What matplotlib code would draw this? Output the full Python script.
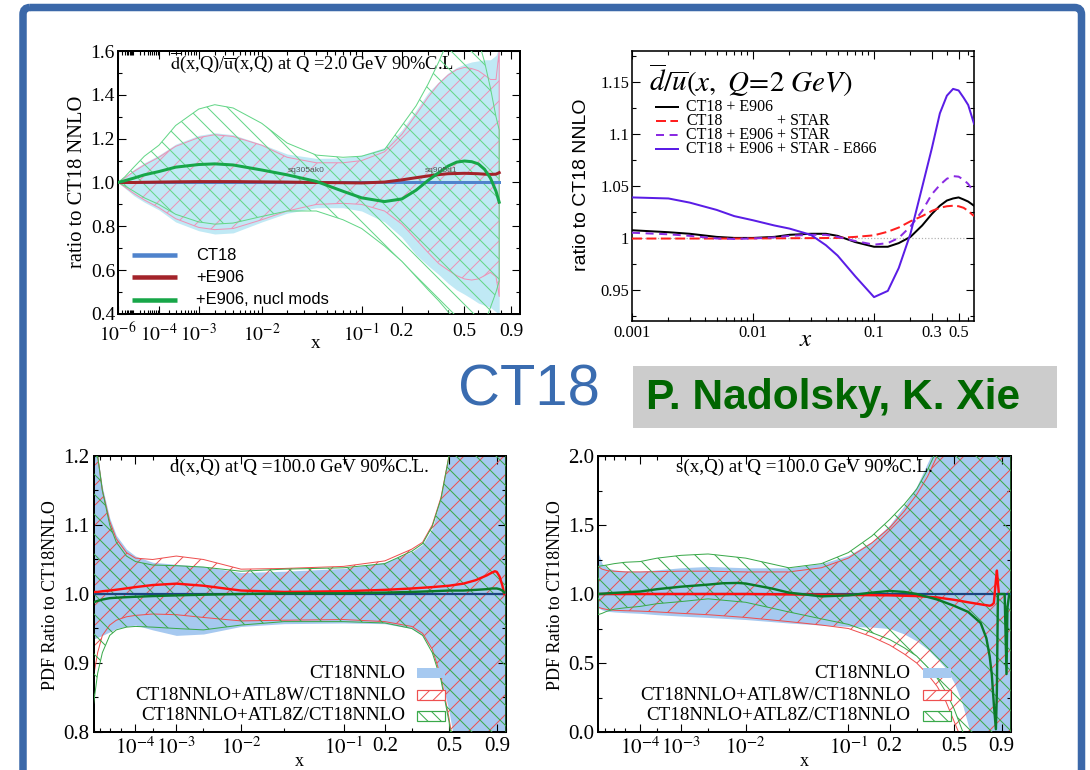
import numpy as np
import matplotlib
matplotlib.use('Agg')
import matplotlib.pyplot as plt
from matplotlib.patches import Rectangle, FancyBboxPatch
from matplotlib.ticker import (FixedLocator, FixedFormatter, LogLocator,
                               MultipleLocator, NullFormatter)

DPI = 120
W, H = 1090, 770

# ---------------- top left: dbar/ubar at Q = 2 GeV ----------------
xa = [1e-6, 3e-6, 1e-5, 3e-5, 1e-4, 3e-4, 1e-3, 2e-3, 4e-3, 1e-2, 2e-2, 4e-2,
      7e-2, 0.1, 0.15, 0.2, 0.25, 0.3, 0.35, 0.4, 0.45, 0.5, 0.55, 0.6, 0.65,
      0.7, 0.75, 0.78]
ct18_hi_a = [1.0, 1.025, 1.06, 1.09, 1.125, 1.175, 1.215, 1.227, 1.218, 1.175,
             1.13, 1.11, 1.112, 1.125, 1.16, 1.24, 1.33, 1.41, 1.46, 1.5, 1.525,
             1.54, 1.55, 1.555, 1.56, 1.56, 1.58, 1.62]
ct18_lo_a = [1.0, 0.975, 0.94, 0.91, 0.875, 0.82, 0.78, 0.765, 0.77, 0.82, 0.86,
             0.885, 0.885, 0.87, 0.82, 0.75, 0.67, 0.62, 0.58, 0.54, 0.51, 0.49,
             0.47, 0.45, 0.44, 0.43, 0.41, 0.38]
e906_hi_a = [1.0, 1.02, 1.05, 1.08, 1.115, 1.165, 1.205, 1.218, 1.21, 1.17, 1.115,
             1.09, 1.09, 1.1, 1.14, 1.22, 1.31, 1.39, 1.45, 1.49, 1.515, 1.525,
             1.52, 1.51, 1.49, 1.47, 1.47, 1.6]
e906_lo_a = [1.0, 0.98, 0.95, 0.92, 0.885, 0.835, 0.795, 0.785, 0.79, 0.83, 0.87,
             0.9, 0.905, 0.9, 0.87, 0.81, 0.74, 0.68, 0.63, 0.6, 0.575, 0.56,
             0.555, 0.56, 0.575, 0.59, 0.57, 0.48]
nucl_hi_a = [1.0, 1.025, 1.07, 1.12, 1.17, 1.26, 1.335, 1.355, 1.34, 1.27, 1.18,
             1.125, 1.115, 1.12, 1.15, 1.26, 1.35, 1.45, 1.55, 1.65, 1.72, 1.76,
             1.74, 1.65, 1.55, 1.43, 1.3, 1.24]
nucl_lo_a = [1.0, 0.985, 0.96, 0.93, 0.9, 0.855, 0.82, 0.81, 0.815, 0.845, 0.87,
             0.87, 0.83, 0.79, 0.71, 0.64, 0.57, 0.51, 0.46, 0.41, 0.37, 0.34,
             0.31, 0.3, 0.36, 0.43, 0.5, 0.55]
ct18_ends_a = [1e-6, 0.78]
ct18_line_a = [1.0, 1.0]
e906_line_a = [1.0, 1.0, 1.0, 1.001, 1.002, 1.003, 1.004, 1.004, 1.004, 1.003,
               1.002, 1.0, 0.999, 0.998, 1.002, 1.012, 1.022, 1.03, 1.036, 1.04,
               1.041, 1.042, 1.041, 1.04, 1.038, 1.037, 1.038, 1.045]
nucl_line_a = [1.0, 1.008, 1.02, 1.035, 1.05, 1.07, 1.082, 1.085, 1.08, 1.057,
               1.035, 1.005, 0.96, 0.93, 0.913, 0.925, 0.965, 1.01, 1.045, 1.075,
               1.093, 1.098, 1.095, 1.085, 1.06, 1.02, 0.96, 0.91]
legend_a = ['CT18', '+E906', '+E906, nucl mods']

# ---------------- top right: dbar/ubar fits with STAR ----------------
xb = [0.001, 0.002, 0.003, 0.005, 0.007, 0.01, 0.015, 0.02, 0.03, 0.04, 0.05,
      0.07, 0.1, 0.13, 0.16, 0.2, 0.25, 0.3, 0.35, 0.4, 0.45, 0.5, 0.55, 0.6,
      0.67]
e906_b = [1.0074, 1.0055, 1.004, 1.001, 1.0, 1.0, 1.001, 1.003, 1.004, 1.004,
          1.002, 0.996, 0.9915, 0.9915, 0.995, 1.001, 1.012, 1.023, 1.031, 1.036,
          1.038, 1.039, 1.037, 1.035, 1.031]
star_b = [0.9994, 0.9994, 0.9994, 0.9994, 0.9994, 0.9995, 0.9996, 0.9997,
          0.9998, 0.9999, 1.0, 1.001, 1.0025, 1.006, 1.01, 1.016, 1.021, 1.026,
          1.029, 1.0305, 1.031, 1.0305, 1.029, 1.026, 1.021]
e906star_b = [1.005, 1.0035, 1.002, 0.9995, 0.999, 0.9995, 1.0005, 1.002, 1.003,
              1.003, 1.001, 0.997, 0.9935, 0.995, 1.0, 1.011, 1.026, 1.042,
              1.051, 1.057, 1.0595, 1.059, 1.056, 1.052, 1.044]
noe866_b = [1.039, 1.038, 1.034, 1.027, 1.021, 1.017, 1.012, 1.009, 1.003, 0.993,
            0.983, 0.963, 0.943, 0.949, 0.971, 1.004, 1.049, 1.086, 1.12, 1.137,
            1.1435, 1.142, 1.135, 1.128, 1.11]

# ---------------- bottom left: d(x,Q) at Q = 100 GeV ----------------
xc_band = [1e-6, 2e-6, 4e-6, 1e-5, 2e-5, 5e-5, 1e-4, 3e-4, 1e-3, 3e-3, 1e-2,
           3e-2, 0.1, 0.2, 0.3, 0.35, 0.4, 0.45, 0.5, 0.55, 0.6, 0.7, 0.8, 0.9,
           1.0]
nnlo_hi_c = [1.40, 1.20, 1.155, 1.11, 1.085, 1.065, 1.055, 1.046, 1.043, 1.04,
             1.031, 1.033, 1.037, 1.046, 1.061, 1.072, 1.095, 1.14, 1.2, 1.3,
             1.5, 1.6, 1.6, 1.6, 1.6]
nnlo_lo_c = [0.935, 0.937, 0.94, 0.945, 0.95, 0.953, 0.955, 0.948, 0.94, 0.942,
             0.953, 0.957, 0.958, 0.957, 0.95, 0.94, 0.918, 0.88, 0.83, 0.77,
             0.7, 0.6, 0.6, 0.6, 0.6]
w_hi_c = [1.40, 1.20, 1.15, 1.105, 1.08, 1.06, 1.052, 1.05, 1.055, 1.05, 1.036,
          1.037, 1.04, 1.048, 1.065, 1.075, 1.1, 1.14, 1.2, 1.3, 1.5, 1.6, 1.6,
          1.6, 1.6]
w_lo_c = [0.88, 0.915, 0.94, 0.955, 0.962, 0.967, 0.969, 0.971, 0.97, 0.966,
          0.961, 0.962, 0.963, 0.96, 0.953, 0.943, 0.92, 0.88, 0.82, 0.75, 0.7,
          0.6, 0.6, 0.6, 0.6]
z_hi_c = [1.40, 1.20, 1.15, 1.1, 1.075, 1.055, 1.047, 1.042, 1.041, 1.039, 1.033,
          1.036, 1.038, 1.044, 1.062, 1.073, 1.098, 1.138, 1.2, 1.3, 1.5, 1.6,
          1.6, 1.6, 1.6]
z_lo_c = [0.84, 0.885, 0.915, 0.94, 0.948, 0.952, 0.953, 0.952, 0.95, 0.948,
          0.955, 0.96, 0.96, 0.958, 0.95, 0.94, 0.915, 0.875, 0.815, 0.74, 0.7,
          0.6, 0.6, 0.6, 0.6]
xc_line = [1e-6, 2e-6, 4e-6, 1e-5, 3e-5, 1e-4, 3e-4, 1e-3, 3e-3, 1e-2, 3e-2, 0.1,
           0.2, 0.3, 0.4, 0.5, 0.6, 0.7, 0.8, 0.85, 0.88, 0.9, 0.93, 0.96, 0.98]
w_line_c = [1.003, 1.003, 1.004, 1.005, 1.007, 1.01, 1.013, 1.015, 1.012, 1.005,
            1.003, 1.004, 1.006, 1.008, 1.01, 1.012, 1.015, 1.02, 1.027, 1.031,
            1.033, 1.032, 1.025, 1.012, 1.0]
z_line_c = [0.988, 0.99, 0.992, 0.994, 0.995, 0.996, 0.997, 0.998, 0.999, 1.0,
            1.001, 1.001, 1.002, 1.003, 1.004, 1.005, 1.005, 1.006, 1.007, 1.008,
            1.008, 1.008, 1.007, 1.005, 1.002]

# ---------------- bottom right: s(x,Q) at Q = 100 GeV ----------------
xd_band = [1e-6, 2e-6, 4e-6, 1e-5, 3e-5, 1e-4, 3e-4, 1e-3, 3e-3, 1e-2, 3e-2,
           6e-2, 0.1, 0.15, 0.2, 0.25, 0.3, 0.35, 0.4, 0.45, 0.5, 0.55, 0.6,
           0.65, 0.7, 0.8, 0.9, 1.0]
nnlo_hi_d = [1.30, 1.22, 1.19, 1.175, 1.168, 1.165, 1.175, 1.19, 1.2, 1.19, 1.19,
             1.22, 1.28, 1.38, 1.5, 1.64, 1.78, 1.95, 2.1, 2.2, 2.3, 2.4, 2.5,
             2.5, 2.5, 2.5, 2.5, 2.5]
nnlo_lo_d = [0.90, 0.885, 0.875, 0.87, 0.865, 0.86, 0.85, 0.84, 0.83, 0.815,
             0.79, 0.775, 0.765, 0.76, 0.75, 0.71, 0.66, 0.6, 0.53, 0.46, 0.36,
             0.23, 0.05, -0.1, -0.3, -0.5, -0.5, -0.5]
w_hi_d = [1.20, 1.18, 1.17, 1.165, 1.16, 1.16, 1.162, 1.165, 1.165, 1.16, 1.16,
          1.19, 1.26, 1.37, 1.48, 1.6, 1.72, 1.85, 2.0, 2.1, 2.2, 2.3, 2.4, 2.5,
          2.5, 2.5, 2.5, 2.5]
w_lo_d = [0.905, 0.895, 0.888, 0.882, 0.879, 0.876, 0.87, 0.86, 0.85, 0.83, 0.8,
          0.775, 0.75, 0.69, 0.63, 0.565, 0.5, 0.42, 0.33, 0.22, 0.08, -0.05,
          -0.2, -0.4, -0.5, -0.5, -0.5, -0.5]
z_hi_d = [1.20, 1.205, 1.21, 1.22, 1.23, 1.235, 1.26, 1.28, 1.29, 1.26, 1.19,
          1.22, 1.30, 1.42, 1.54, 1.65, 1.76, 1.9, 2.05, 2.2, 2.3, 2.4, 2.5, 2.5,
          2.5, 2.5, 2.5, 2.5]
z_lo_d = [0.85, 0.86, 0.875, 0.89, 0.9, 0.91, 0.93, 0.945, 0.965, 0.94, 0.87,
          0.82, 0.78, 0.72, 0.67, 0.61, 0.55, 0.47, 0.39, 0.29, 0.17, 0.03, -0.1,
          -0.3, -0.5, -0.5, -0.5, -0.5]
xd_wline = [1e-6, 1e-4, 1e-3, 1e-2, 2e-2, 6e-2, 0.1, 0.2, 0.3, 0.4, 0.5, 0.6,
            0.7, 0.78, 0.8, 0.82, 0.84, 0.85, 0.86, 0.87]
w_line_d = [1.0, 1.0, 1.0, 1.0, 0.998, 0.995, 0.993, 0.99, 0.985, 0.975, 0.958,
            0.94, 0.925, 0.915, 0.92, 0.935, 1.1, 1.17, 1.08, 1.0]
xd_zline = [1e-6, 1e-5, 1e-4, 3e-4, 1e-3, 3e-3, 5e-3, 8e-3, 1e-2, 2e-2, 3e-2,
            6e-2, 0.1, 0.15, 0.2, 0.25, 0.3, 0.4, 0.5, 0.6, 0.7, 0.75, 0.78, 0.8,
            0.82, 0.84, 0.85, 0.86, 0.9, 0.93, 0.95, 0.96, 0.98]
z_line_d = [1.0, 1.008, 1.018, 1.035, 1.053, 1.068, 1.078, 1.08, 1.076, 1.04,
            1.01, 0.983, 0.99, 1.01, 1.022, 1.015, 1.0, 0.96, 0.915, 0.87, 0.79,
            0.68, 0.55, 0.42, 0.2, 0.02, 0.3, 1.0, 1.0, 1.0, 0.42, 0.9, 1.0]
legend_cd = ['CT18NNLO', 'CT18NNLO+ATL8W/CT18NNLO', 'CT18NNLO+ATL8Z/CT18NNLO']

# ---------------- styling ----------------
plt.rcParams['font.family'] = ['Liberation Serif', 'DejaVu Serif']
plt.rcParams['mathtext.fontset'] = 'stix'
plt.rcParams['hatch.linewidth'] = 0.6
SANS = ['Liberation Sans', 'DejaVu Sans']

FRAME_BLUE = '#3b68a9'
CYAN = '#c0e9f5'
PINK = '#ee92b6'
LGREEN = '#63d687'
BAND_BLUE = '#a6c9f0'
HATCH_RED = '#ee5050'
HATCH_GREEN = '#3aa94a'


def pt(px):
    """pixel size -> points at the figure dpi"""
    return px * 72.0 / DPI


def x02(x):
    return np.power(np.abs(x), 0.2)


def x02_inv(y):
    return np.power(np.abs(y), 5.0)


fig = plt.figure(figsize=(W / DPI, H / DPI), dpi=DPI)
fig.patch.set_facecolor('white')


def panel(L, R, T, B):
    return fig.add_axes([L / W, 1 - B / H, (R - L) / W, (B - T) / H])


def style(ax, spine_px, label_px, xpad_px, ypad_px):
    for s in ax.spines.values():
        s.set_linewidth(pt(spine_px))
    ax.tick_params(which='both', direction='in', top=True, right=True,
                   width=pt(1.1), labelsize=pt(label_px))
    ax.tick_params(axis='x', which='both', pad=pt(xpad_px))
    ax.tick_params(axis='y', which='both', pad=pt(ypad_px))
    ax.tick_params(which='major', length=pt(8))
    ax.tick_params(which='minor', length=pt(4))


def power_axis(ax, ticks, labels, subs):
    ax.set_xscale('function', functions=(x02, x02_inv))
    ax.set_xlim(1e-6, 1.0)
    ax.xaxis.set_major_locator(FixedLocator(ticks))
    ax.xaxis.set_major_formatter(FixedFormatter(labels))
    ax.xaxis.set_minor_locator(LogLocator(base=10, subs=subs, numticks=60))
    ax.xaxis.set_minor_formatter(NullFormatter())


def hatched(ax, x, lo, hi, color, hatch, z):
    ax.fill_between(x, lo, hi, facecolor='none', edgecolor=color, hatch=hatch,
                    linewidth=pt(1.0), zorder=z)


# ---------- top-left panel ----------
axA = panel(118, 520, 51, 314)
power_axis(axA, [1e-6, 1e-4, 1e-3, 1e-2, 0.1, 0.2, 0.5, 0.9],
           [r'$10^{-6}$', r'$10^{-4}$', r'$10^{-3}$', r'$10^{-2}$',
            r'$10^{-1}$', '0.2', '0.5', '0.9'], np.arange(2, 10))
axA.set_ylim(0.4, 1.6)
axA.yaxis.set_major_locator(FixedLocator([0.4, 0.6, 0.8, 1.0, 1.2, 1.4, 1.6]))
axA.yaxis.set_major_formatter(FixedFormatter(['0.4', '0.6', '0.8', '1.0',
                                              '1.2', '1.4', '1.6']))
axA.yaxis.set_minor_locator(MultipleLocator(0.1))
style(axA, 2.0, 19.5, 8.5, 3)
axA.fill_between(xa, ct18_lo_a, ct18_hi_a, color=CYAN, lw=0, zorder=1)
axA.text(0.4826, 0.954,
         r'$\overline{\rm d}$(x,Q)/$\overline{\rm u}$(x,Q) at Q =2.0 GeV 90%C.L',
         transform=axA.transAxes, ha='center', va='center',
         fontsize=pt(18.5), zorder=1.5)
hatched(axA, xa, e906_lo_a, e906_hi_a, PINK, '//', 2)
hatched(axA, xa, nucl_lo_a, nucl_hi_a, LGREEN, '\\\\', 3)
axA.plot(ct18_ends_a, ct18_line_a, color='#4f83cc', lw=pt(3), zorder=4)
axA.plot(xa, e906_line_a, color='#a3232a', lw=pt(3), zorder=5)
axA.plot(xa, nucl_line_a, color='#17a648', lw=pt(3), zorder=6)

# ---------- top-right panel ----------
axB = panel(632, 974, 51, 321)
axB.set_xscale('log')
axB.set_xlim(0.001, 0.67)
axB.set_ylim(0.92, 1.18)
axB.xaxis.set_major_locator(FixedLocator([0.001, 0.01, 0.1, 0.3, 0.5]))
axB.xaxis.set_major_formatter(FixedFormatter(['0.001', '0.01', '0.1', '0.3', '0.5']))
axB.xaxis.set_minor_locator(LogLocator(base=10, subs=np.arange(2, 10), numticks=30))
axB.xaxis.set_minor_formatter(NullFormatter())
axB.yaxis.set_major_locator(FixedLocator([0.95, 1.0, 1.05, 1.1, 1.15]))
axB.yaxis.set_major_formatter(FixedFormatter(['0.95', '1', '1.05', '1.1', '1.15']))
axB.yaxis.set_minor_locator(MultipleLocator(0.025))
style(axB, 1.6, 16.5, 4, 3)
axB.axhline(1.0, color='#b0b0b0', ls=':', lw=pt(1.2), zorder=1)
STYLE_B = [
    dict(color='black', ls='-'),
    dict(color='#ff1f1f', dashes=(5.0, 2.2)),
    dict(color='#8a2be2', dashes=(4.0, 2.8)),
    dict(color='#5a1de6', ls='-'),
]
series_b = [e906_b, star_b, e906star_b, noe866_b]
for vals, st in zip(series_b, STYLE_B):
    axB.plot(xb, vals, lw=pt(2.0), zorder=3, **st)


# ---------- bottom panels ----------
def bottom_panel(L, R, xband, bands, lines, ylim, yticks, ylabels, yminor):
    ax = panel(L, R, 456, 732)
    power_axis(ax, [1e-4, 1e-3, 1e-2, 0.1, 0.2, 0.5, 0.9],
               [r'$10^{-4}$', r'$10^{-3}$', r'$10^{-2}$', r'$10^{-1}$',
                '0.2', '0.5', '0.9'], (1.0, 3.0))
    ax.set_ylim(*ylim)
    ax.yaxis.set_major_locator(FixedLocator(yticks))
    ax.yaxis.set_major_formatter(FixedFormatter(ylabels))
    ax.yaxis.set_minor_locator(MultipleLocator(yminor))
    style(ax, 2.0, 21, 5, 4)
    lo0, hi0 = bands[0]
    ax.fill_between(xband, lo0, hi0, color=BAND_BLUE, lw=0, zorder=1)
    hatched(ax, xband, bands[1][0], bands[1][1], HATCH_RED, '//', 2)
    hatched(ax, xband, bands[2][0], bands[2][1], HATCH_GREEN, '\\\\', 3)
    ax.axhline(1.0, color='#1b4580', lw=pt(2.2), zorder=4)
    (xw, yw), (xz, yz) = lines
    ax.plot(xw, yw, color='#ff1010', lw=pt(2.4), zorder=5)
    ax.plot(xz, yz, color='#0b7a28', lw=pt(2.4), zorder=6)
    return ax


axC = bottom_panel(93.5, 506, xc_band,
                   [(nnlo_lo_c, nnlo_hi_c), (w_lo_c, w_hi_c), (z_lo_c, z_hi_c)],
                   [(xc_line, w_line_c), (xc_line, z_line_c)],
                   (0.8, 1.2), [0.8, 0.9, 1.0, 1.1, 1.2],
                   ['0.8', '0.9', '1.0', '1.1', '1.2'], 0.05)
axD = bottom_panel(598, 1011, xd_band,
                   [(nnlo_lo_d, nnlo_hi_d), (w_lo_d, w_hi_d), (z_lo_d, z_hi_d)],
                   [(xd_wline, w_line_d), (xd_zline, z_line_d)],
                   (0.0, 2.0), [0.0, 0.5, 1.0, 1.5, 2.0],
                   ['0.0', '0.5', '1.0', '1.5', '2.0'], 0.25)

# ---------- overlay in pixel coordinates ----------
ov = fig.add_axes([0, 0, 1, 1], zorder=10)
ov.set_xlim(0, W)
ov.set_ylim(H, 0)
ov.axis('off')

# slide frame
ov.add_patch(FancyBboxPatch((23, 7.5), 1058.5, 900,
                            boxstyle='round,pad=0,rounding_size=7',
                            fill=False, edgecolor=FRAME_BLUE, lw=pt(7.5)))

# top-left labels and legend
ov.text(77, 182, 'ratio to CT18 NNLO', rotation=90, ha='center', va='center',
        fontsize=pt(20.5))
ov.text(316, 344, 'x', ha='center', va='center', fontsize=pt(19))
ov.text(306, 171, 'sq305ak0', ha='center', va='center', fontsize=pt(8.5),
        family=SANS, color='#555555')
ov.text(441, 171, 'sq905d1', ha='center', va='center', fontsize=pt(8.5),
        family=SANS, color='#555555')
for label, color, y in zip(legend_a, ['#4f83cc', '#a3232a', '#17a648'],
                           [255, 277, 300]):
    ov.plot([132, 177], [y, y], color=color, lw=pt(4.5), solid_capstyle='butt')
    ov.text(196, y, label, ha='left', va='center', fontsize=pt(16.5), family=SANS)

# top-right labels and legend
ov.text(649, 80, r'$\overline{d}/\overline{u}(x,\ Q\!=\!2\ GeV)$', ha='left',
        va='center', fontsize=pt(29))
ov.text(581.5, 185, 'ratio to CT18 NNLO', rotation=90, ha='center', va='center',
        fontsize=pt(19.5), family=SANS)
ov.text(806, 340, r'$x$', ha='center', va='center', fontsize=pt(25))
renderer = fig.canvas.get_renderer()
probe = ov.text(0, 0, 'CT18 + E906', fontsize=pt(16))
w_head = probe.get_window_extent(renderer).width
probe.remove()
rows_b = [107, 121, 135, 149]
for st, y in zip(STYLE_B, rows_b):
    ov.plot([655.5, 678], [y, y], lw=pt(2.0), **st)
ov.text(686, rows_b[0], 'CT18 + E906', va='center', fontsize=pt(16))
ov.text(686, rows_b[1], 'CT18', va='center', fontsize=pt(16))
ov.text(686 + w_head + 4, rows_b[1], '+ STAR', va='center', fontsize=pt(16))
ov.text(686, rows_b[2], 'CT18 + E906 + STAR', va='center', fontsize=pt(16))
ov.text(686, rows_b[3], 'CT18 + E906 + STAR - E866', va='center',
        fontsize=pt(16))

# centre banner
ov.text(458, 405, 'CT18', ha='left', va='baseline', fontsize=pt(58),
        family=SANS, color='#3a6cb0')
ov.add_patch(Rectangle((632.6, 366), 424.4, 62, facecolor='#cccccc',
                       edgecolor='none'))
ov.text(646, 409, 'P. Nadolsky, K. Xie', ha='left', va='baseline',
        fontsize=pt(42.5), weight='bold', family=SANS, color='#006600')

# bottom panels: titles, axis labels, legends
for title, xc_pix, ylab_x, leg_right, sw_left in [
        ('d(x,Q) at Q =100.0 GeV 90%C.L.', 299, 50.4, 405, 417),
        ('s(x,Q) at Q =100.0 GeV 90%C.L.', 804, 555.4, 910.7, 923)]:
    ov.text(xc_pix, 467, title, ha='center', va='center', fontsize=pt(19))
    ov.text(ylab_x, 595, 'PDF Ratio to CT18NNLO', rotation=90, ha='center',
            va='center', fontsize=pt(18))
    ov.text(xc_pix, 761, 'x', ha='center', va='center', fontsize=pt(18))
    for i, (label, y) in enumerate(zip(legend_cd, [673, 695, 716])):
        ov.text(leg_right, y, label, ha='right', va='center', fontsize=pt(19))
        if i == 0:
            ov.add_patch(Rectangle((sw_left, y - 5), 28, 10,
                                   facecolor=BAND_BLUE, edgecolor='none'))
        else:
            c = HATCH_RED if i == 1 else HATCH_GREEN
            h = '///' if i == 1 else '\\\\\\'
            ov.add_patch(Rectangle((sw_left, y - 5), 28, 10, facecolor='white',
                                   edgecolor=c, hatch=h, lw=pt(1.2)))

fig.savefig('out.png', dpi=DPI, facecolor='white')
